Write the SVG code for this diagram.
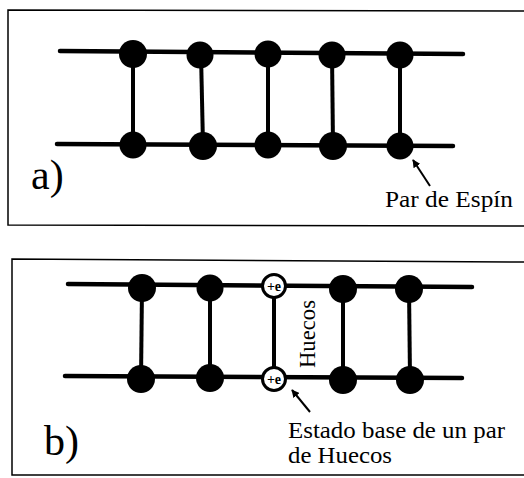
<svg xmlns="http://www.w3.org/2000/svg" width="524" height="478" viewBox="0 0 524 478">
  <style>
    .frame { fill: none; stroke: #000; stroke-width: 1.5; }
    .strand { stroke: #000; stroke-width: 4.5; stroke-linecap: round; fill: none; }
    .rung { stroke: #000; stroke-width: 4; fill: none; }
    .spin { fill: #000; }
    .hole { fill: #fff; stroke: #000; stroke-width: 3; }
    .ptr { stroke: #000; stroke-width: 2; fill: none; }
    text { font-family: "Liberation Serif", "DejaVu Serif", serif; fill: #000; }
    .chg { font-size: 14px; font-weight: bold; text-anchor: middle; }
  </style>
  <defs>
    <marker id="head" viewBox="0 0 10 10" refX="9" refY="5" markerWidth="4" markerHeight="4" orient="auto">
      <path d="M0,0 L10,5 L0,10 z" fill="#000"/>
    </marker>
  </defs>
  <rect width="524" height="478" fill="#fff"/>

  <!-- panel frames (open on the right) -->
  <g id="frames">
    <path class="frame" d="M526,11 L8,10 L8,225 L526,226"/>
    <path class="frame" d="M526,262 L12,259 L12,475 L526,475"/>
  </g>

  <!-- connectors: chains (legs), rungs and pointers -->
  <g id="connectors">
    <line class="strand" x1="60" y1="51" x2="463" y2="54"/>
    <line class="strand" x1="57" y1="144" x2="453" y2="146"/>
    <line class="rung" x1="133" y1="54" x2="133" y2="145"/>
    <line class="rung" x1="201" y1="54" x2="203" y2="145"/>
    <line class="rung" x1="268" y1="54" x2="268" y2="145"/>
    <line class="rung" x1="332" y1="54" x2="333" y2="145"/>
    <line class="rung" x1="400" y1="54" x2="400" y2="145"/>

    <line class="strand" x1="68" y1="284" x2="472" y2="287"/>
    <line class="strand" x1="65" y1="376" x2="462" y2="378"/>
    <line class="rung" x1="142" y1="288" x2="141" y2="379"/>
    <line class="rung" x1="210" y1="288" x2="210" y2="377"/>
    <line class="rung" x1="274" y1="286" x2="274" y2="379"/>
    <line class="rung" x1="343" y1="288" x2="343" y2="378"/>
    <line class="rung" x1="409" y1="288" x2="410" y2="378"/>

    <line class="ptr" x1="430" y1="186" x2="413" y2="160" marker-end="url(#head)"/>
    <line class="ptr" x1="310" y1="412" x2="292" y2="390" marker-end="url(#head)"/>
  </g>

  <!-- panel a: spin pairs -->
  <g id="a-top-1"><circle class="spin" cx="133" cy="54" r="14"/></g>
  <g id="a-top-2"><circle class="spin" cx="200" cy="55" r="13.5"/></g>
  <g id="a-top-3"><circle class="spin" cx="268" cy="54" r="13.5"/></g>
  <g id="a-top-4"><circle class="spin" cx="332" cy="55" r="13.5"/></g>
  <g id="a-top-5"><circle class="spin" cx="400" cy="55" r="13.5"/></g>
  <g id="a-bot-1"><circle class="spin" cx="133" cy="145" r="13.5"/></g>
  <g id="a-bot-2"><circle class="spin" cx="203" cy="146" r="14"/></g>
  <g id="a-bot-3"><circle class="spin" cx="268" cy="145" r="13.5"/></g>
  <g id="a-bot-4"><circle class="spin" cx="333" cy="146" r="14"/></g>
  <g id="a-bot-5"><circle class="spin" cx="400" cy="146" r="13.5"/></g>

  <!-- panel b: spin pairs and the hole pair -->
  <g id="b-top-1"><circle class="spin" cx="142" cy="288" r="14"/></g>
  <g id="b-top-2"><circle class="spin" cx="210" cy="288" r="13.5"/></g>
  <g id="b-top-hole">
    <circle class="hole" cx="274" cy="286" r="11.5"/>
    <text class="chg" x="274" y="291">+e</text>
  </g>
  <g id="b-top-4"><circle class="spin" cx="343" cy="289" r="14"/></g>
  <g id="b-top-5"><circle class="spin" cx="409" cy="289" r="14"/></g>
  <g id="b-bot-1"><circle class="spin" cx="141" cy="379" r="14"/></g>
  <g id="b-bot-2"><circle class="spin" cx="210" cy="378" r="14"/></g>
  <g id="b-bot-hole">
    <circle class="hole" cx="274" cy="379" r="11.5"/>
    <text class="chg" x="274" y="384">+e</text>
  </g>
  <g id="b-bot-4"><circle class="spin" cx="343" cy="380" r="14"/></g>
  <g id="b-bot-5"><circle class="spin" cx="410" cy="380" r="14"/></g>

  <!-- labels -->
  <g id="labels">
    <text x="31" y="189" font-size="42">a)</text>
    <text x="385" y="207" font-size="24" textLength="128" lengthAdjust="spacingAndGlyphs">Par de Espín</text>
    <text x="44" y="455" font-size="42">b)</text>
    <text transform="translate(315,334) rotate(-90)" font-size="23" text-anchor="middle" textLength="68" lengthAdjust="spacingAndGlyphs">Huecos</text>
    <text x="288" y="438" font-size="24" textLength="217" lengthAdjust="spacingAndGlyphs">Estado base de un par</text>
    <text x="288" y="463" font-size="24" textLength="104" lengthAdjust="spacingAndGlyphs">de Huecos</text>
  </g>
</svg>
